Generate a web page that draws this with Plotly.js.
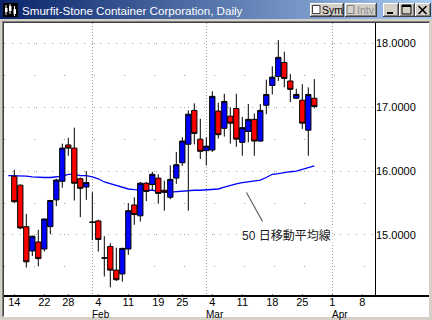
<!DOCTYPE html>
<html><head><meta charset="utf-8">
<script src="https://cdn.plot.ly/plotly-3.0.1.min.js"></script>
<style>html,body{margin:0;padding:0;background:#D4D0C8;}#chart{width:432px;height:320px;}</style>
</head><body><div id="chart"></div>
<script>
// ---- data ----
const calendar = ['2002-01-11','2002-01-14','2002-01-15','2002-01-16','2002-01-17','2002-01-18','2002-01-22','2002-01-23','2002-01-24','2002-01-25','2002-01-28','2002-01-29','2002-01-30','2002-01-31','2002-02-01','2002-02-04','2002-02-05','2002-02-06','2002-02-07','2002-02-08','2002-02-11','2002-02-12','2002-02-13','2002-02-14','2002-02-15','2002-02-19','2002-02-20','2002-02-21','2002-02-22','2002-02-25','2002-02-26','2002-02-27','2002-02-28','2002-03-01','2002-03-04','2002-03-05','2002-03-06','2002-03-07','2002-03-08','2002-03-11','2002-03-12','2002-03-13','2002-03-14','2002-03-15','2002-03-18','2002-03-19','2002-03-20','2002-03-21','2002-03-22','2002-03-25','2002-03-26','2002-03-27','2002-03-28','2002-03-29','2002-04-01','2002-04-02','2002-04-03','2002-04-04','2002-04-05','2002-04-08','2002-04-09','2002-04-10','2002-04-11','2002-04-12'];
const dates = ['2002-01-14','2002-01-15','2002-01-16','2002-01-17','2002-01-18','2002-01-22','2002-01-23','2002-01-24','2002-01-25','2002-01-28','2002-01-29','2002-01-30','2002-01-31','2002-02-01','2002-02-04','2002-02-05','2002-02-06','2002-02-07','2002-02-08','2002-02-11','2002-02-12','2002-02-13','2002-02-14','2002-02-15','2002-02-19','2002-02-20','2002-02-21','2002-02-22','2002-02-25','2002-02-26','2002-02-27','2002-02-28','2002-03-01','2002-03-04','2002-03-05','2002-03-06','2002-03-07','2002-03-08','2002-03-11','2002-03-12','2002-03-13','2002-03-14','2002-03-15','2002-03-18','2002-03-19','2002-03-20','2002-03-21','2002-03-22','2002-03-25','2002-03-26','2002-03-27'];
const open  = [15.92,15.78,15.13,14.75,14.89,14.78,15.13,15.55,15.84,16.41,16.36,15.88,15.75,15.20,15.22,14.64,14.82,14.45,14.39,14.78,15.47,15.30,15.81,15.79,15.89,15.70,15.59,15.89,16.13,16.42,16.95,16.50,16.32,16.33,16.94,16.67,16.86,16.98,16.45,16.62,16.81,16.47,17.03,17.34,17.48,17.70,17.41,17.14,17.11,16.64,17.14];
const high  = [16.02,15.79,15.33,14.99,15.08,15.26,15.55,15.88,16.43,16.52,16.68,15.90,16.00,15.67,15.24,14.98,14.87,14.80,14.80,15.50,15.59,15.83,15.83,15.99,15.95,15.85,16.09,16.30,16.53,16.95,17.06,16.82,16.53,17.25,17.07,17.21,17.00,17.21,16.85,17.05,16.90,17.05,17.43,17.64,18.05,17.87,17.52,17.29,17.36,17.31,17.44];
const low   = [15.50,15.09,14.49,14.67,14.51,14.74,15.01,15.45,15.74,16.24,15.54,15.28,15.55,14.92,14.74,14.35,14.18,14.28,14.27,14.69,15.16,15.21,15.53,15.70,15.49,15.38,15.56,15.80,16.08,15.38,16.42,16.19,16.09,16.30,16.51,16.54,16.43,16.38,16.24,16.45,16.24,16.46,16.89,17.20,17.41,17.31,17.08,17.13,16.66,16.24,16.98];
const close = [15.52,15.11,14.58,14.98,14.63,15.25,15.54,15.86,16.36,16.36,15.81,15.73,15.82,15.20,14.93,14.64,14.45,14.30,14.79,15.38,15.32,15.81,15.68,15.95,15.65,15.67,15.87,16.10,16.47,16.89,16.59,16.31,16.39,17.17,16.57,17.09,16.75,16.50,16.68,16.81,16.47,16.95,17.20,17.47,17.78,17.45,17.28,17.20,16.75,17.20,17.01];
const maDates = calendar.slice(0, 52);
const ma50 = [15.93,15.93,15.93,15.92,15.91,15.90,15.90,15.90,15.91,15.92,15.95,15.95,15.93,15.93,15.91,15.88,15.83,15.80,15.77,15.74,15.72,15.71,15.70,15.70,15.70,15.68,15.67,15.67,15.68,15.69,15.69,15.70,15.70,15.71,15.72,15.72,15.75,15.78,15.80,15.82,15.83,15.85,15.86,15.90,15.95,15.96,15.98,15.99,16.00,16.03,16.05,16.08];
const tickDates = ['2002-01-14','2002-01-22','2002-01-28','2002-02-04','2002-02-11','2002-02-19','2002-02-25','2002-03-04','2002-03-11','2002-03-18','2002-03-25','2002-04-01','2002-04-08'];
const tickText = ['14','22','28','4','11','19','25','4','11','18','25','1','8'];
const monthStarts = ['2002-02-01','2002-03-01','2002-04-01'];
const monthLabels = ['Feb','Mar','Apr'];
const yTicks = [15, 16, 17, 18];
const titleText = 'Smurfit-Stone Container Corporation, Daily';
const maLabel = '50 日移動平均線';

// ---- helpers ----
const pos = d => calendar.indexOf(d);
const W = 432, H = 320;
const X = p => p / W, Y = p => 1 - p / H;
const xRange = [-0.717, 61.117];
const yRange = [14.045, 18.318];
const shapes = [], annotations = [];
function rect(x0, y0, x1, y1, fill, line) {
  shapes.push({type:'rect', xref:'paper', yref:'paper', x0:X(x0), x1:X(x1), y0:Y(y1), y1:Y(y0),
    fillcolor:fill, line: line || {width:0}, layer:'above'});
}
function seg(x0, y0, x1, y1, color, w) {
  shapes.push({type:'line', xref:'paper', yref:'paper', x0:X(x0), x1:X(x1), y0:Y(y0), y1:Y(y1),
    line:{color:color, width:w}, layer:'above'});
}
function label(x, y, text, opts) {
  annotations.push(Object.assign({xref:'paper', yref:'paper', x:X(x), y:Y(y), text:text, showarrow:false,
    xanchor:'left', yanchor:'middle', borderpad:0,
    font:{family:'Liberation Sans, Arial, sans-serif', size:11, color:'#000'}}, opts||{}));
}
// window frame
rect(0, 0, 432, 23, '#D4D0C8');
rect(0, 0, 4, 320, '#D4D0C8');
rect(429, 0, 432, 320, '#D4D0C8');
rect(0, 317, 432, 320, '#D4D0C8');
rect(2, 21, 430, 22, '#808080');
rect(2, 21, 3, 317, '#808080');
rect(3, 22, 429, 23, '#404040');
rect(3, 22, 4, 316, '#404040');
// title bar gradient
const c0 = [10, 36, 106], c1 = [166, 202, 240];
for (let i = 0; i < 108; i++) {
  const t = i / 107;
  const c = c0.map((v, k) => Math.round(v + (c1[k] - v) * t));
  rect(i * 4, 0, i * 4 + 4.5, 19, 'rgb(' + c.join(',') + ')');
}
// icon
rect(3, 3, 18, 17, '#000000');
seg(6, 5, 6, 15, '#FFFFFF', 1); rect(5, 8, 7.5, 12, '#FFFFFF');
seg(10, 4, 10, 14, '#FFFFFF', 1); rect(9, 6, 11.5, 11, '#FFFFFF');
seg(14.5, 6, 14.5, 16, '#FFFFFF', 1); rect(13.5, 9, 16, 14, '#FFFFFF');
label(21, 10, titleText, {font:{family:'Liberation Sans, Arial, sans-serif', size:11.6, color:'#FFFFFF'}});
// buttons
function button(x0, y0, x1, y1) {
  rect(x0, y0, x1, y1, '#404040');
  rect(x0, y0, x1 - 1, y1 - 1, '#FFFFFF');
  rect(x0 + 1, y0 + 1, x1 - 1, y1 - 1, '#808080');
  rect(x0 + 1, y0 + 1, x1 - 2, y1 - 2, '#D4D0C8');
}
button(310, 3, 344, 17);
rect(312.5, 5.5, 320, 13.5, '#FFFFFF', {color:'#404040', width:1});
label(320.5, 10, 'Sym', {font:{family:'Liberation Sans, Arial, sans-serif', size:10.5, color:'#000'}});
button(345, 3, 377, 17);
rect(347, 5.5, 354, 13.5, '#D4D0C8', {color:'#808080', width:1});
label(355.5, 10, 'Intv', {font:{family:'Liberation Sans, Arial, sans-serif', size:10.5, color:'#8C8C8C'}});
button(383, 3, 399, 17);
rect(387, 12, 393, 14, '#000000');
button(399, 3, 415, 17);
rect(402, 5, 411, 14, 'rgba(0,0,0,0)', {color:'#000', width:1});
rect(402, 5, 411, 7, '#000000');
button(415, 3, 431, 17);
seg(418.5, 6, 426.5, 14, '#000', 1.6);
seg(426.5, 6, 418.5, 14, '#000', 1.6);
// axis lines
seg(4, 296, 429, 296, '#000', 2);
seg(375.5, 23, 375.5, 296, '#000', 1);
// month labels
monthStarts.forEach((d, i) => annotations.push({xref:'x', yref:'paper', x:pos(d), y:Y(314), text:monthLabels[i],
  showarrow:false, xanchor:'left', yanchor:'middle', xshift:-1, borderpad:0,
  font:{family:'Liberation Sans, Arial, sans-serif', size:10, color:'#000'}}));
// MA label and pointer
annotations.push({xref:'paper', yref:'paper', x:X(286.5), y:Y(235), text:maLabel, showarrow:false,
  xanchor:'center', yanchor:'middle', bgcolor:'#FFFFFF', borderpad:1,
  font:{family:'Liberation Sans, Noto Sans CJK JP, sans-serif', size:12, color:'#202020'}});
seg(246.5, 192.5, 262.5, 221.5, '#606060', 1.2);

const traces = [
  {type:'scatter', mode:'lines', x:maDates.map(pos), y:ma50, xaxis:'x', yaxis:'y',
   line:{color:'#0000FF', width:1.3}, hoverinfo:'skip'},
  {type:'candlestick', x:dates.map(pos), open:open, high:high, low:low, close:close, xaxis:'x2', yaxis:'y2',
   increasing:{fillcolor:'#0000FF', line:{color:'#000000', width:1}},
   decreasing:{fillcolor:'#FF0000', line:{color:'#000000', width:1}},
   whiskerwidth:0, hoverinfo:'skip'}
];
const dom = {x:[X(4), X(375)], y:[Y(296), Y(23)]};
const layout = {
  width:W, height:H, margin:{l:0, r:0, t:0, b:0, pad:0},
  paper_bgcolor:'#FFFFFF', plot_bgcolor:'#FFFFFF', showlegend:false, hovermode:false,
  boxgap:0.12, boxgroupgap:0,
  xaxis:{domain:dom.x, range:xRange, fixedrange:true, showline:false, zeroline:false,
    tickmode:'array', tickvals:tickDates.map(pos), ticktext:tickText, ticks:'inside', ticklen:2, tickcolor:'#808080',
    ticklabelstandoff:-2,
    tickfont:{family:'Liberation Sans, Arial, sans-serif', size:11, color:'#000'},
    showgrid:false, rangeslider:{visible:false},
    minor:{tickmode:'array', tickvals:monthStarts.map(pos), showgrid:true, gridcolor:'#A0A0A0', griddash:'1px,2px', gridwidth:1, ticks:''}},
  yaxis:{domain:dom.y, range:yRange, side:'right', fixedrange:true, showline:false, zeroline:false,
    tickmode:'array', tickvals:yTicks, tickformat:'.4f', ticks:'',
    tickfont:{family:'Liberation Sans, Arial, sans-serif', size:11, color:'#000'},
    showgrid:true, gridcolor:'#A0A0A0', griddash:'1px,7px', gridwidth:1,
    minor:{dtick:0.5, showgrid:true, gridcolor:'#A0A0A0', griddash:'1px,29px', gridwidth:1, ticks:''}},
  xaxis2:{overlaying:'x', range:xRange, visible:false, fixedrange:true, rangeslider:{visible:false}},
  yaxis2:{overlaying:'y', range:yRange, visible:false, fixedrange:true},
  shapes:shapes, annotations:annotations
};
Plotly.newPlot('chart', traces, layout, {staticPlot:true, displayModeBar:false});
</script></body></html>
